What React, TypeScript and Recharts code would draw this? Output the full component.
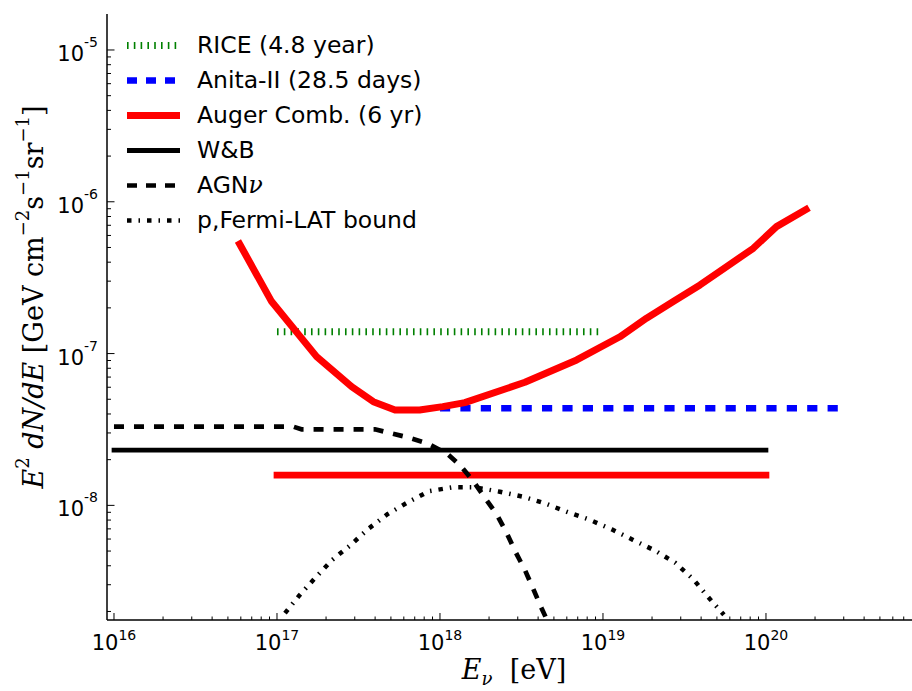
import React from 'react';
import { LineChart, Line, XAxis, YAxis } from 'recharts';

// ---- data (E in eV, flux E^2 dN/dE in GeV cm^-2 s^-1 sr^-1) ----
const riceE = [1e17, 1e19];
const riceFlux = [1.39e-7, 1.39e-7];

const anitaE = [1e18, 2.77e20];
const anitaFlux = [4.36e-8, 4.36e-8];

const augerE = [5.9e16, 9.27e16, 1.75e17, 2.87e17, 3.9e17, 5.3e17, 7.5e17, 1.04e18, 1.42e18, 3.32e18, 6.9e18, 1.27e19, 1.85e19, 2.7e19, 3.94e19, 5.74e19, 8.36e19, 1.16e20, 1.76e20];
const augerFlux = [5.27e-7, 2.2e-7, 9.55e-8, 6.05e-8, 4.82e-8, 4.25e-8, 4.25e-8, 4.47e-8, 4.75e-8, 6.47e-8, 9.08e-8, 1.29e-7, 1.71e-7, 2.2e-7, 2.83e-7, 3.74e-7, 4.94e-7, 6.86e-7, 8.9e-7];

const augerIntE = [1e17, 1e20];
const augerIntFlux = [1.58e-8, 1.58e-8];

const wbE = [1e16, 1e20];
const wbFlux = [2.31e-8, 2.31e-8];

const agnE = [1e16, 1.26e17, 1.41e17, 3.98e17, 6.3e17, 8.3e17, 1.1e18, 1.32e18, 1.58e18, 1.9e18, 2.24e18, 2.57e18, 2.9e18, 3.32e18, 3.72e18, 4.2e18, 5.0e18];
const agnFlux = [3.3e-8, 3.3e-8, 3.17e-8, 3.17e-8, 2.81e-8, 2.57e-8, 2.2e-8, 1.85e-8, 1.47e-8, 1.11e-8, 8.65e-9, 6.55e-9, 4.96e-9, 3.75e-9, 2.84e-9, 2.1e-9, 1.4e-9];

const fermiE = [1.12e17, 1.38e17, 1.73e17, 2.18e17, 2.83e17, 3.63e17, 4.75e17, 6.34e17, 8.57e17, 1.19e18, 1.64e18, 2.33e18, 3.24e18, 4.41e18, 5.98e18, 8.32e18, 1.13e19, 1.53e19, 2.08e19, 2.77e19, 3.58e19, 4.43e19, 5.52e19];
const fermiFlux = [1.95e-9, 2.57e-9, 3.36e-9, 4.37e-9, 5.48e-9, 7.0e-9, 8.73e-9, 1.047e-8, 1.24e-8, 1.315e-8, 1.315e-8, 1.23e-8, 1.14e-8, 1.03e-8, 9.08e-9, 8.02e-9, 6.95e-9, 5.92e-9, 5.04e-9, 4.19e-9, 3.26e-9, 2.48e-9, 1.9e-9];

const xDecades = [1e15, 1e16, 1e17, 1e18, 1e19, 1e20];
const yDecades = [1e-10, 1e-9, 1e-8, 1e-7, 1e-6, 1e-5];
const minorMultipliers = [1, 2, 3, 4, 5, 6, 7, 8, 9];

const xDomain: [number, number] = [9.06e15, 7.98e20];
const yDomain: [number, number] = [1.757e-9, 1.726e-5];

const legendNames = ['RICE (4.8 year)', 'Anita-II (28.5 days)', 'Auger Comb. (6 yr)', 'W&B', 'AGN', 'p,Fermi-LAT bound'];

// ---- helpers ----
const toPoints = (xs: number[], ys: number[]) => xs.map((x, i) => ({ x, y: ys[i] }));
const buildTicks = (decades: number[], dom: [number, number]) => {
  const out: number[] = [];
  decades.forEach((d) => minorMultipliers.forEach((m) => {
    const v = d * m;
    if (v >= dom[0] && v <= dom[1]) out.push(v);
  }));
  return out;
};
const xTicks = buildTicks(xDecades, xDomain);
const yTicks = buildTicks(yDecades, yDomain);
const isMajor = (v: number) => {
  const l = Math.log10(v);
  return Math.abs(l - Math.round(l)) < 1e-6;
};
const expOf = (v: number) => String(Math.round(Math.log10(v)));

const SANS = 'DejaVu Sans';
const SERIF = 'DejaVu Serif';

const BottomTick = (props: any) => {
  const { x, y, payload } = props;
  const v = payload.value;
  const major = isMajor(v);
  const len = major ? 7 : 3.5;
  return (
    <g>
      <line x1={x} x2={x} y1={y} y2={y - len} stroke="#000" strokeWidth={1} />
      {major && (
        <text x={x} y={y + 30} textAnchor="middle" fontFamily={SANS} fontSize={21} fill="#000">
          <tspan>10</tspan>
          <tspan dy={-10} fontSize={14}>{expOf(v)}</tspan>
        </text>
      )}
    </g>
  );
};

const TopTick = (props: any) => {
  const { x, y, payload } = props;
  const len = isMajor(payload.value) ? 7 : 3.5;
  return <line x1={x} x2={x} y1={y} y2={y + len} stroke="#000" strokeWidth={1} />;
};

const LeftTick = (props: any) => {
  const { x, y, payload } = props;
  const v = payload.value;
  const major = isMajor(v);
  const len = major ? 7.5 : 4;
  return (
    <g>
      <line x1={x} x2={x + len} y1={y} y2={y} stroke="#000" strokeWidth={1} />
      {major && (
        <text x={x - 9} y={y + 11} textAnchor="end" fontFamily={SANS} fontSize={21} fill="#000">
          <tspan>10</tspan>
          <tspan dy={-14} fontSize={14}>{expOf(v)}</tspan>
        </text>
      )}
    </g>
  );
};

const YLabel = (props: any) => {
  const vb = props.viewBox || { x: 0, y: 14, width: 107, height: 606 };
  const cx = vb.x + 33;
  const cy = vb.y + vb.height / 2 - 20;
  const sup = 18;
  return (
    <text x={cx} y={cy} transform={`rotate(-90, ${cx}, ${cy})`} textAnchor="middle" dominantBaseline="central" fontFamily={SERIF} fontSize={27} fill="#000" style={{ whiteSpace: 'pre' }}>
      <tspan fontStyle="italic">E</tspan>
      <tspan dy={-11} fontSize={sup}>2</tspan>
      <tspan dy={11} fontStyle="italic"> dN/dE</tspan>
      <tspan> [GeV cm</tspan>
      <tspan dy={-11} fontSize={sup}>−2</tspan>
      <tspan dy={11}>s</tspan>
      <tspan dy={-11} fontSize={sup}>−1</tspan>
      <tspan dy={11}>sr</tspan>
      <tspan dy={-11} fontSize={sup}>−1</tspan>
      <tspan dy={11}>]</tspan>
    </text>
  );
};

const XLabel = (props: any) => {
  const vb = props.viewBox || { x: 107, y: 620, width: 806, height: 71 };
  const cx = vb.x + vb.width / 2 + 4;
  const cy = vb.y + 59;
  return (
    <text x={cx} y={cy} textAnchor="middle" fontFamily={SERIF} fontSize={27} fill="#000" style={{ whiteSpace: 'pre' }}>
      <tspan fontStyle="italic">E</tspan>
      <tspan dy={6} fontSize={18} fontStyle="italic">ν</tspan>
      <tspan dy={-6}>  [eV]</tspan>
    </text>
  );
};

type Sty = { color: string; width: number; dash?: string; cap?: 'butt' | 'square' };
const styles: Sty[] = [
  { color: '#008000', width: 7, dash: '1.6 5.2', cap: 'butt' },
  { color: '#0000ff', width: 6.5, dash: '10 9', cap: 'butt' },
  { color: '#ff0000', width: 7, cap: 'butt' },
  { color: '#000000', width: 5, cap: 'butt' },
  { color: '#000000', width: 4.7, dash: '10 9', cap: 'butt' },
  { color: '#000000', width: 4.5, dash: '4.5 7 1.5 7', cap: 'butt' },
];

const LegendBox = () => (
  <div style={{ position: 'absolute', left: 0, top: 0, pointerEvents: 'none' }}>
    {legendNames.map((name, i) => {
      const s = styles[i];
      return (
        <div key={name} style={{ position: 'absolute', left: 126, top: 27.5 + i * 35, height: 35, width: 400, display: 'flex', alignItems: 'center' }}>
          <svg width={56} height={35} style={{ display: 'block' }}>
            <line x1={1} x2={54} y1={17.5} y2={17.5} stroke={s.color} strokeWidth={s.width} strokeDasharray={s.dash} strokeLinecap={s.cap} />
          </svg>
          <span style={{ marginLeft: 15, fontFamily: SANS, fontSize: 23.5, color: '#000', whiteSpace: 'nowrap', lineHeight: '35px' }}>
            {name}
            {i === 4 && <span style={{ fontFamily: SERIF, fontStyle: 'italic' }}>ν</span>}
          </span>
        </div>
      );
    })}
  </div>
);

export default function App() {
  const lineProps = { type: 'linear' as const, dataKey: 'y', dot: false, isAnimationActive: false, activeDot: false, strokeLinejoin: 'round' as const };
  return (
    <div style={{ position: 'relative', width: 912, height: 691, overflow: 'hidden', background: '#fff' }}>
      <style>{`body{margin:0;background:#fff;}`}</style>
      <LineChart width={920} height={691} margin={{ top: 14, right: 7, bottom: 0, left: 0 }}>
        <XAxis
          dataKey="x" type="number" scale="log" domain={xDomain} allowDataOverflow ticks={xTicks} interval={0}
          tick={<BottomTick />} tickLine={false} tickSize={0} tickMargin={0} height={71}
          axisLine={{ stroke: '#000', strokeWidth: 1.5 }}
          label={<XLabel />}
        />
        <XAxis
          xAxisId="top" orientation="top" dataKey="x" type="number" scale="log" domain={xDomain} allowDataOverflow ticks={xTicks} interval={0}
          tick={<TopTick />} tickLine={false} tickSize={0} tickMargin={0} height={0}
          axisLine={{ stroke: '#000', strokeWidth: 1.5 }}
        />
        <YAxis
          type="number" scale="log" domain={yDomain} allowDataOverflow ticks={yTicks} interval={0}
          tick={<LeftTick />} tickLine={false} tickSize={0} tickMargin={0} width={107}
          axisLine={{ stroke: '#000', strokeWidth: 1.5 }}
          label={<YLabel />}
        />
        <Line {...lineProps} data={toPoints(riceE, riceFlux)} stroke={styles[0].color} strokeWidth={styles[0].width} strokeDasharray={styles[0].dash} strokeLinecap="butt" />
        <Line {...lineProps} data={toPoints(anitaE, anitaFlux)} stroke={styles[1].color} strokeWidth={styles[1].width} strokeDasharray="10.2 10.2" strokeLinecap="butt" />
        <Line {...lineProps} data={toPoints(augerE, augerFlux)} stroke="#ff0000" strokeWidth={7} strokeLinecap="square" />
        <Line {...lineProps} data={toPoints(augerIntE, augerIntFlux)} stroke="#ff0000" strokeWidth={6.7} strokeLinecap="square" />
        <Line {...lineProps} data={toPoints(wbE, wbFlux)} stroke="#000" strokeWidth={4.7} strokeLinecap="square" />
        <Line {...lineProps} data={toPoints(agnE, agnFlux)} stroke="#000" strokeWidth={4.7} strokeDasharray="10 10" strokeLinecap="butt" />
        <Line {...lineProps} data={toPoints(fermiE, fermiFlux)} stroke="#000" strokeWidth={4.5} strokeDasharray="4.5 7 1.5 7" strokeLinecap="butt" />
      </LineChart>
      <LegendBox />
    </div>
  );
}
